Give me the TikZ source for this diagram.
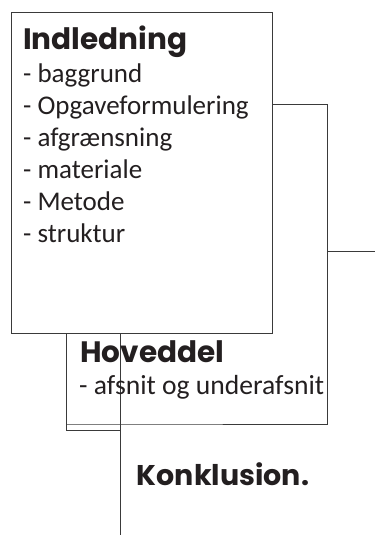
\documentclass[tikz,border=0pt]{standalone}
\usepackage{fontspec}
\setmainfont{Carlito}
\newfontfamily\headfont{Poppins}
\definecolor{ink}{HTML}{231F20}
\definecolor{rule}{HTML}{3A3A3A}
\begin{document}
\begin{tikzpicture}[x=1pt,y=-1pt,
  frame/.style={draw=rule,line width=1pt},
  head/.style={anchor=base west,inner sep=0pt,text=ink,font=\headfont\bfseries\fontsize{29.5}{34}\selectfont},
  body/.style={anchor=base west,inner sep=0pt,text=ink,font=\fontsize{27}{32}\selectfont}]
\useasboundingbox (0,0) rectangle (375,535);
% Hoveddel frame fragments
\coordinate (hTL) at (66.7,333);
\coordinate (hBL) at (66.7,430);
\coordinate (hML) at (66.7,424);
\coordinate (vT) at (120,333);
\coordinate (vB) at (120,535);
\coordinate (vM) at (120,424);
\coordinate (vL) at (120,430);
\coordinate (rB) at (327.7,424);
\coordinate (cS) at (272,104);
\coordinate (cR) at (327.7,251.7);
\coordinate (cE) at (375,251.7);
\draw[frame] (hTL) -- (hBL) -- (vL);
\draw[frame] (hML) -- (vM) -- (rB);
\draw[frame] (vT) -- (vB);
\draw[frame] (cS) -| (rB);
\draw[frame] (cR) -- (cE);
% Indledning box
\node[frame,fill=white,anchor=north west,minimum width=261pt,minimum height=321pt,inner sep=0pt] (b1) at (11,12) {};
\node[head] (t1) at (23,50) {Indledning};
\node[body] (l1) at (23,82) {- baggrund};
\node[body] (l2) at (23,114) {- Opgaveformulering};
\node[body] (l3) at (23,146) {- afgrænsning};
\node[body] (l4) at (23,178) {- materiale};
\node[body] (l5) at (23,210) {- Metode};
\node[body] (l6) at (23,242) {- struktur};
\node[head] (t2) at (80,362.7) {Hoveddel};
\node[body,font=\fontsize{27.6}{32}\selectfont] (l7) at (79,394.5) {- afsnit og underafsnit};
\node[head,font=\headfont\bfseries\fontsize{28.5}{34}\selectfont] (t3) at (136.7,485) {Konklusion.};
\end{tikzpicture}
\end{document}
